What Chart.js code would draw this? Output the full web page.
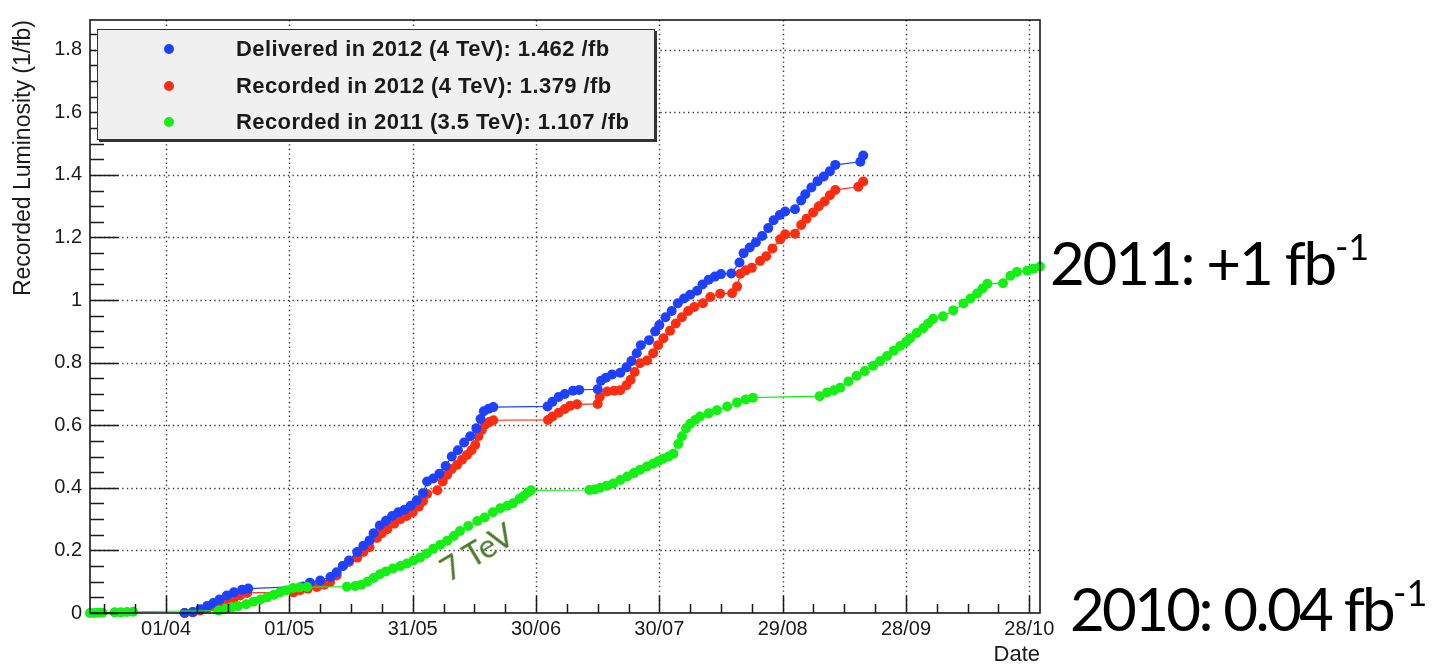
<!DOCTYPE html>
<html>
<head>
<meta charset="utf-8">
<title>Recorded Luminosity</title>
<script src="https://cdn.jsdelivr.net/npm/chart.js@4.4.1/dist/chart.umd.min.js"></script>
<style>
    body { margin: 0; background: #fff; }
    #wrap { position: relative; width: 1433px; height: 666px; overflow: hidden; }
    #chart { position: absolute; left: 0; top: 0; }
    .legend {
        position: absolute; left: 97px; top: 29px; width: 556px; height: 109px;
        background: #f0f0f0; border: 1px solid #333; box-shadow: 2px 2px 0 #333;
        font: bold 22px "Liberation Sans", Arial, sans-serif; color: #1a1a1a; letter-spacing: 0.4px;
    }
    .legend .row { position: absolute; left: 0; height: 30px; line-height: 30px; white-space: nowrap; }
    .legend .dot { position: absolute; left: 66px; top: 10px; width: 10px; height: 10px; border-radius: 50%; }
    .legend .txt { position: absolute; left: 138px; top: 0; }
    .note { position: absolute; font: 60px Lato, "Open Sans", sans-serif; color: #000; line-height: 1;
            white-space: nowrap; letter-spacing: -2.2px; }
    .note sup { font-size: 0.6em; position: relative; top: -0.12em; vertical-align: top; letter-spacing: 0; }
    .tev { position: absolute; left: 451px; top: 553px; font: 33px Lato, sans-serif; line-height: 1; color: #4b7a28;
           transform: rotate(-31deg); transform-origin: left bottom; white-space: nowrap; }
</style>
</head>
<body>
<div id="wrap">
    <canvas id="chart" width="1433" height="666"></canvas>
    <div class="legend">
        <div class="row" style="top:4px"><span class="dot" style="background:#1e40ff"></span><span class="txt">Delivered in 2012 (4 TeV): 1.462 /fb</span></div>
        <div class="row" style="top:41px"><span class="dot" style="background:#ff2d0f"></span><span class="txt">Recorded in 2012 (4 TeV): 1.379 /fb</span></div>
        <div class="row" style="top:77px"><span class="dot" style="background:#14f014"></span><span class="txt">Recorded in 2011 (3.5 TeV): 1.107 /fb</span></div>
    </div>
    <div class="note" style="left:1050px; top:232px">2011: +1 fb<sup>-1</sup></div>
    <div class="note" style="left:1070px; top:578px; letter-spacing:-2.7px">2010: 0.04 fb<sup>-1</sup></div>
    <div class="tev">7 TeV</div>
</div>
<script>
// Date axis: days counted from 01/04 (day 0)
const xMin = -18.5;
const xMax = 212.6;
const xTickDays = [0, 30, 60, 90, 120, 150, 180, 210];
const xTickLabels = ['01/04', '01/05', '31/05', '30/06', '30/07', '29/08', '28/09', '28/10'];

const yMax = 1.895;
const yTicks = [0, 0.2, 0.4, 0.6, 0.8, 1, 1.2, 1.4, 1.6, 1.8];
const yTickLabels = ['0', '0.2', '0.4', '0.6', '0.8', '1', '1.2', '1.4', '1.6', '1.8'];

// Delivered in 2012 (4 TeV)
const deliveredDays = [4.5, 6.5, 8.3, 10, 11.5, 13, 14.8, 16.5, 18.5, 20, 33.3, 35, 37.5, 40, 41.5, 43, 44.5, 46.5, 48, 49.5,
    50.5, 52, 53.5, 55, 56.5, 58, 59.5, 61, 62.5, 63.5, 65, 66.5, 68, 69.5, 71, 72.5, 74, 75.5, 76.5, 77.3,
    78.5, 79.6, 92.8, 94, 95.5, 97, 99, 100.5, 105, 105.8, 107, 108.5, 110.5, 112, 113.2, 114.5, 115.5, 117.5, 119, 120,
    121.5, 123, 124.5, 126, 127.5, 129.2, 130.5, 132, 133.5, 135, 137.5, 139.5, 140.5, 142, 143.5, 145, 146.5, 147.8, 149.3, 150.6,
    153, 154.5, 155.5, 157, 158.5, 160, 161.5, 162.8, 168.9, 169.6];
const deliveredLumi = [0, 0.003, 0.012, 0.022, 0.032, 0.043, 0.056, 0.066, 0.074, 0.078, 0.085, 0.097, 0.104, 0.115, 0.13, 0.15, 0.168, 0.195, 0.215, 0.232,
    0.255, 0.28, 0.295, 0.31, 0.322, 0.33, 0.343, 0.36, 0.383, 0.42, 0.43, 0.445, 0.47, 0.5, 0.52, 0.545, 0.565, 0.59, 0.62, 0.645,
    0.653, 0.658, 0.66, 0.675, 0.69, 0.7, 0.71, 0.713, 0.715, 0.742, 0.752, 0.762, 0.768, 0.785, 0.805, 0.83, 0.856, 0.872, 0.9, 0.92,
    0.945, 0.965, 0.99, 1.005, 1.017, 1.03, 1.05, 1.065, 1.075, 1.083, 1.085, 1.12, 1.15, 1.168, 1.185, 1.205, 1.23, 1.255, 1.272, 1.283,
    1.29, 1.318, 1.338, 1.36, 1.38, 1.395, 1.412, 1.432, 1.442, 1.462];

// Recorded in 2012 (4 TeV)
const recorded12Days = [4.5, 6.5, 8.3, 10, 11.5, 13, 14.8, 16.5, 18, 19.7, 31, 32.6, 34.5, 36.7, 38.5, 39.9, 41.5, 43, 44.5, 46.5,
    48, 49.5, 51.3, 52.5, 53.8, 55.5, 57, 58.5, 60, 61.5, 62.5, 63.5, 66, 67.3, 68.4, 69.5, 70.8, 72, 73.2, 74.3,
    75.2, 76, 76.8, 77.6, 78.6, 79.6, 92.9, 94, 95.5, 97, 98.3, 100, 105, 105.5, 107.3, 109, 110.5, 112, 113, 114,
    115.3, 117, 118.5, 119.7, 121, 122.6, 124, 125.5, 127, 128.5, 130.6, 132.4, 134.8, 137.7, 138.9, 139.7, 141, 142.5, 144.5, 146,
    147.5, 149.4, 150.6, 153, 154.5, 155.8, 157.4, 158.8, 160.2, 161.5, 162.8, 168.4, 169.6];
const recorded12Lumi = [0, 0.002, 0.008, 0.015, 0.021, 0.03, 0.04, 0.048, 0.056, 0.064, 0.066, 0.073, 0.078, 0.083, 0.09, 0.099, 0.12, 0.15, 0.163, 0.177,
    0.195, 0.21, 0.24, 0.255, 0.268, 0.285, 0.3, 0.31, 0.322, 0.34, 0.357, 0.38, 0.392, 0.42, 0.442, 0.46, 0.474, 0.49, 0.505, 0.52,
    0.537, 0.565, 0.585, 0.602, 0.61, 0.616, 0.617, 0.628, 0.64, 0.652, 0.662, 0.667, 0.668, 0.69, 0.708, 0.71, 0.712, 0.728, 0.745, 0.77,
    0.798, 0.807, 0.83, 0.856, 0.878, 0.902, 0.925, 0.945, 0.965, 0.978, 0.99, 1.01, 1.02, 1.022, 1.043, 1.084, 1.095, 1.103, 1.125, 1.14,
    1.165, 1.194, 1.21, 1.212, 1.24, 1.26, 1.28, 1.3, 1.315, 1.335, 1.352, 1.362, 1.379];

// Recorded in 2011 (3.5 TeV), same calendar days
const recorded11Days = [-18.5, -17.5, -16.5, -15.5, -12.5, -11, -9.5, -8, 12.8, 14.5, 16, 17.5, 19.5, 21.2, 23, 24.6, 26.2, 27.7, 29.3, 30.9,
    32.5, 34.3, 44, 46, 47.5, 49, 50.5, 52, 53.5, 55.2, 57, 58.6, 60.2, 61.8, 63.4, 65, 66.7, 68.4, 70, 71.5,
    73.5, 75.7, 77.5, 79.5, 81.3, 83, 84.4, 86, 86.9, 88, 88.8, 103, 104.3, 105.6, 107.2, 108.8, 110.5, 112.2, 113.8, 115.3,
    117, 118.5, 119.7, 120.9, 122.2, 123.4, 124.6, 125.5, 126.5, 127.5, 128.7, 129.9, 132, 134, 136.5, 138.9, 141, 142.8, 159, 160.8,
    162.5, 164, 166, 168, 170, 172, 173.7, 175.4, 177, 178.6, 180, 181, 182.6, 184.2, 185.4, 186.6, 189, 191.5, 194, 195.7,
    197.3, 198.6, 199.8, 203.6, 205.4, 207, 209.5, 211, 212.6];
const recorded11Lumi = [0, 0, 0.001, 0.001, 0.002, 0.002, 0.003, 0.004, 0.008, 0.014, 0.018, 0.022, 0.028, 0.036, 0.043, 0.05, 0.058, 0.066, 0.073, 0.08,
    0.082, 0.083, 0.084, 0.086, 0.09, 0.1, 0.112, 0.124, 0.133, 0.142, 0.15, 0.158, 0.168, 0.177, 0.19, 0.205, 0.218, 0.231, 0.246, 0.262,
    0.278, 0.294, 0.305, 0.322, 0.335, 0.343, 0.351, 0.365, 0.373, 0.385, 0.392, 0.393, 0.395, 0.4, 0.407, 0.414, 0.425, 0.436, 0.447, 0.458,
    0.468, 0.477, 0.485, 0.493, 0.5, 0.509, 0.54, 0.565, 0.59, 0.605, 0.617, 0.628, 0.638, 0.648, 0.66, 0.673, 0.682, 0.688, 0.693, 0.705,
    0.712, 0.72, 0.74, 0.758, 0.773, 0.79, 0.805, 0.821, 0.838, 0.853, 0.866, 0.878, 0.895, 0.91, 0.925, 0.94, 0.948, 0.967, 0.989, 1.005,
    1.021, 1.037, 1.052, 1.054, 1.078, 1.09, 1.094, 1.1, 1.107];

const BLUE = '#1e40ff';
const RED = '#ff2d0f';
const GREEN = '#14f014';

function toPoints(days, values) {
    return days.map((d, i) => ({ x: d, y: values[i] }));
}

function series(label, days, values, color, order) {
    return {
        label: label,
        data: toPoints(days, values),
        borderColor: color,
        backgroundColor: color,
        borderWidth: 1.2,
        pointRadius: 5,
        pointBorderWidth: 0,
        pointBackgroundColor: color,
        tension: 0,
        clip: 6,
        order: order
    };
}

// ROOT-like frame: dotted grid, inner tick marks, box around the pad
const rootFrame = {
    id: 'rootFrame',
    beforeDatasetsDraw(chart) {
        const { ctx, chartArea: a, scales: { x, y } } = chart;
        ctx.save();
        ctx.strokeStyle = '#3a3a3a';
        ctx.lineWidth = 1.4;
        ctx.setLineDash([1.4, 3.2]);
        ctx.beginPath();
        xTickDays.forEach(d => {
            const px = Math.round(x.getPixelForValue(d)) + 0.5;
            ctx.moveTo(px, a.top);
            ctx.lineTo(px, a.bottom);
        });
        yTicks.forEach(v => {
            if (v === 0) return;
            const py = Math.round(y.getPixelForValue(v)) + 0.5;
            ctx.moveTo(a.left, py);
            ctx.lineTo(a.right, py);
        });
        ctx.stroke();
        ctx.restore();
    },
    afterDatasetsDraw(chart) {
        const { ctx, chartArea: a, scales: { x, y } } = chart;
        ctx.save();
        ctx.strokeStyle = '#1a1a1a';
        ctx.lineWidth = 1.5;
        ctx.beginPath();
        // x ticks, every 7.5 days
        for (let d = -15; d <= xMax; d += 7.5) {
            if (d < xMin) continue;
            const px = Math.round(x.getPixelForValue(d)) + 0.5;
            const len = (d % 30 === 0) ? 17 : 9;
            ctx.moveTo(px, a.bottom);
            ctx.lineTo(px, a.bottom - len);
        }
        // y ticks, every 0.05
        for (let i = 0; i * 0.05 <= yMax; i++) {
            const py = Math.round(y.getPixelForValue(i * 0.05)) + 0.5;
            const len = (i % 4 === 0) ? 28 : 14;
            ctx.moveTo(a.left, py);
            ctx.lineTo(a.left + len, py);
        }
        ctx.stroke();
        ctx.lineWidth = 1.6;
        ctx.strokeRect(a.left, a.top, a.right - a.left, a.bottom - a.top);
        ctx.restore();
    }
};

const tickFont = { family: '"Liberation Sans", Arial, sans-serif', size: 20 };
const titleFont = { family: '"Liberation Sans", Arial, sans-serif', size: 23 };

new Chart(document.getElementById('chart'), {
    type: 'line',
    data: {
        datasets: [
            series('Delivered in 2012 (4 TeV): 1.462 /fb', deliveredDays, deliveredLumi, BLUE, 1),
            series('Recorded in 2012 (4 TeV): 1.379 /fb', recorded12Days, recorded12Lumi, RED, 2),
            series('Recorded in 2011 (3.5 TeV): 1.107 /fb', recorded11Days, recorded11Lumi, GREEN, 0)
        ]
    },
    options: {
        responsive: false,
        devicePixelRatio: 1,
        animation: false,
        layout: { padding: { top: 13, right: 393, bottom: 0, left: 0 } },
        scales: {
            x: {
                type: 'linear',
                min: xMin,
                max: xMax,
                afterFit: s => { s.height = 53; },
                afterBuildTicks: s => { s.ticks = xTickDays.map(v => ({ value: v })); },
                ticks: {
                    callback: (v, i) => xTickLabels[i],
                    font: tickFont, color: '#1a1a1a', padding: 4,
                    maxRotation: 0, autoSkip: false
                },
                grid: { display: false, drawTicks: false },
                border: { display: false },
                title: { display: true, text: 'Date', align: 'end', font: { family: titleFont.family, size: 22 }, color: '#1a1a1a', padding: { top: 0, bottom: -2 } }
            },
            y: {
                min: 0,
                max: yMax,
                afterFit: s => { s.width = 90; },
                afterBuildTicks: s => { s.ticks = yTicks.map(v => ({ value: v })); },
                ticks: {
                    callback: (v, i) => yTickLabels[i],
                    font: tickFont, color: '#1a1a1a', padding: 8
                },
                grid: { display: false, drawTicks: false },
                border: { display: false },
                title: { display: true, text: 'Recorded Luminosity (1/fb)', align: 'end', font: titleFont, color: '#1a1a1a', padding: { top: 10, bottom: 0 } }
            }
        },
        plugins: {
            legend: { display: false },
            tooltip: { enabled: false }
        }
    },
    plugins: [rootFrame]
});
</script>
</body>
</html>
